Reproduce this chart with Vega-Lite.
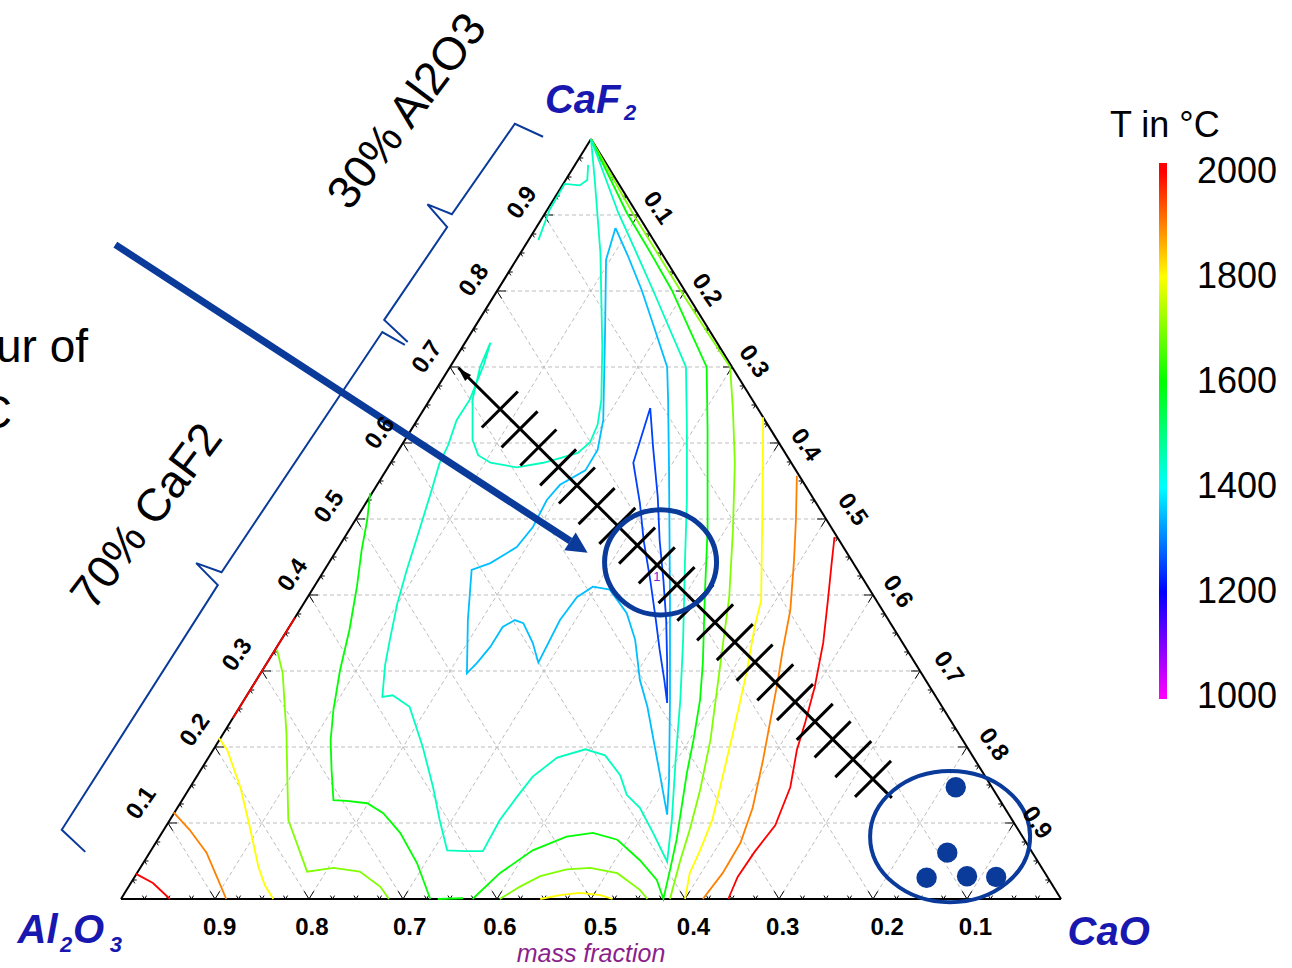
{
"$schema":"https://vega.github.io/schema/vega-lite/v6.json",
"width":1292,"height":968,"autosize":{"type":"none"},"padding":0,"background":"white",
"config":{"view":{"stroke":null},"font":"Liberation Sans"},
"encoding":{
"x":{"field":"x","type":"quantitative","scale":{"domain":[-0.1287,1.2457],"nice":false,"zero":false},"axis":null},
"y":{"field":"y","type":"quantitative","scale":{"domain":[-0.0908,1.1829],"nice":false,"zero":false},"axis":null}},
"layer":[
{"data":{"values":[
{"x":0.05,"y":0.1,"x2":0.95,"y2":0.1},{"x":0.1,"y":0.2,"x2":0.9,"y2":0.2},{"x":0.15,"y":0.3,"x2":0.85,"y2":0.3},{"x":0.2,"y":0.4,"x2":0.8,"y2":0.4},{"x":0.25,"y":0.5,"x2":0.75,"y2":0.5},{"x":0.3,"y":0.6,"x2":0.7,"y2":0.6},{"x":0.35,"y":0.7,"x2":0.65,"y2":0.7},{"x":0.4,"y":0.8,"x2":0.6,"y2":0.8},{"x":0.45,"y":0.9,"x2":0.55,"y2":0.9},
{"x":0.1,"y":0,"x2":0.55,"y2":0.9},{"x":0.2,"y":0,"x2":0.6,"y2":0.8},{"x":0.3,"y":0,"x2":0.65,"y2":0.7},{"x":0.4,"y":0,"x2":0.7,"y2":0.6},{"x":0.5,"y":0,"x2":0.75,"y2":0.5},{"x":0.6,"y":0,"x2":0.8,"y2":0.4},{"x":0.7,"y":0,"x2":0.85,"y2":0.3},{"x":0.8,"y":0,"x2":0.9,"y2":0.2},{"x":0.9,"y":0,"x2":0.95,"y2":0.1},
{"x":0.1,"y":0,"x2":0.05,"y2":0.1},{"x":0.2,"y":0,"x2":0.1,"y2":0.2},{"x":0.3,"y":0,"x2":0.15,"y2":0.3},{"x":0.4,"y":0,"x2":0.2,"y2":0.4},{"x":0.5,"y":0,"x2":0.25,"y2":0.5},{"x":0.6,"y":0,"x2":0.3,"y2":0.6},{"x":0.7,"y":0,"x2":0.35,"y2":0.7},{"x":0.8,"y":0,"x2":0.4,"y2":0.8},{"x":0.9,"y":0,"x2":0.45,"y2":0.9}]},
"mark":{"type":"rule","stroke":"#bdbdbd","strokeWidth":1,"strokeDash":[4,3]},
"encoding":{"x2":{"field":"x2"},"y2":{"field":"y2"}}},
{"data":{"values":[{"x":0,"y":0,"x2":1,"y2":0},{"x":0,"y":0,"x2":0.5,"y2":1},{"x":1,"y":0,"x2":0.5,"y2":1}]},
"mark":{"type":"rule","stroke":"black","strokeWidth":2},
"encoding":{"x2":{"field":"x2"},"y2":{"field":"y2"}}},
{"data":{"values":[
{"e":"b","k":"m","x":0.025,"y":0},{"e":"b","k":"m","x":0.05,"y":0},{"e":"b","k":"m","x":0.075,"y":0},{"e":"b","k":"M","x":0.1,"y":0},{"e":"b","k":"m","x":0.125,"y":0},{"e":"b","k":"m","x":0.15,"y":0},{"e":"b","k":"m","x":0.175,"y":0},{"e":"b","k":"M","x":0.2,"y":0},{"e":"b","k":"m","x":0.225,"y":0},{"e":"b","k":"m","x":0.25,"y":0},{"e":"b","k":"m","x":0.275,"y":0},{"e":"b","k":"M","x":0.3,"y":0},{"e":"b","k":"m","x":0.325,"y":0},{"e":"b","k":"m","x":0.35,"y":0},{"e":"b","k":"m","x":0.375,"y":0},{"e":"b","k":"M","x":0.4,"y":0},{"e":"b","k":"m","x":0.425,"y":0},{"e":"b","k":"m","x":0.45,"y":0},{"e":"b","k":"m","x":0.475,"y":0},{"e":"b","k":"M","x":0.5,"y":0},{"e":"b","k":"m","x":0.525,"y":0},{"e":"b","k":"m","x":0.55,"y":0},{"e":"b","k":"m","x":0.575,"y":0},{"e":"b","k":"M","x":0.6,"y":0},{"e":"b","k":"m","x":0.625,"y":0},{"e":"b","k":"m","x":0.65,"y":0},{"e":"b","k":"m","x":0.675,"y":0},{"e":"b","k":"M","x":0.7,"y":0},{"e":"b","k":"m","x":0.725,"y":0},{"e":"b","k":"m","x":0.75,"y":0},{"e":"b","k":"m","x":0.775,"y":0},{"e":"b","k":"M","x":0.8,"y":0},{"e":"b","k":"m","x":0.825,"y":0},{"e":"b","k":"m","x":0.85,"y":0},{"e":"b","k":"m","x":0.875,"y":0},{"e":"b","k":"M","x":0.9,"y":0},{"e":"b","k":"m","x":0.925,"y":0},{"e":"b","k":"m","x":0.95,"y":0},{"e":"b","k":"m","x":0.975,"y":0},
{"e":"l","k":"m","x":0.0125,"y":0.025},{"e":"l","k":"m","x":0.025,"y":0.05},{"e":"l","k":"m","x":0.0375,"y":0.075},{"e":"l","k":"M","x":0.05,"y":0.1},{"e":"l","k":"m","x":0.0625,"y":0.125},{"e":"l","k":"m","x":0.075,"y":0.15},{"e":"l","k":"m","x":0.0875,"y":0.175},{"e":"l","k":"M","x":0.1,"y":0.2},{"e":"l","k":"m","x":0.1125,"y":0.225},{"e":"l","k":"m","x":0.125,"y":0.25},{"e":"l","k":"m","x":0.1375,"y":0.275},{"e":"l","k":"M","x":0.15,"y":0.3},{"e":"l","k":"m","x":0.1625,"y":0.325},{"e":"l","k":"m","x":0.175,"y":0.35},{"e":"l","k":"m","x":0.1875,"y":0.375},{"e":"l","k":"M","x":0.2,"y":0.4},{"e":"l","k":"m","x":0.2125,"y":0.425},{"e":"l","k":"m","x":0.225,"y":0.45},{"e":"l","k":"m","x":0.2375,"y":0.475},{"e":"l","k":"M","x":0.25,"y":0.5},{"e":"l","k":"m","x":0.2625,"y":0.525},{"e":"l","k":"m","x":0.275,"y":0.55},{"e":"l","k":"m","x":0.2875,"y":0.575},{"e":"l","k":"M","x":0.3,"y":0.6},{"e":"l","k":"m","x":0.3125,"y":0.625},{"e":"l","k":"m","x":0.325,"y":0.65},{"e":"l","k":"m","x":0.3375,"y":0.675},{"e":"l","k":"M","x":0.35,"y":0.7},{"e":"l","k":"m","x":0.3625,"y":0.725},{"e":"l","k":"m","x":0.375,"y":0.75},{"e":"l","k":"m","x":0.3875,"y":0.775},{"e":"l","k":"M","x":0.4,"y":0.8},{"e":"l","k":"m","x":0.4125,"y":0.825},{"e":"l","k":"m","x":0.425,"y":0.85},{"e":"l","k":"m","x":0.4375,"y":0.875},{"e":"l","k":"M","x":0.45,"y":0.9},{"e":"l","k":"m","x":0.4625,"y":0.925},{"e":"l","k":"m","x":0.475,"y":0.95},{"e":"l","k":"m","x":0.4875,"y":0.975},
{"e":"r","k":"m","x":0.9875,"y":0.025},{"e":"r","k":"m","x":0.975,"y":0.05},{"e":"r","k":"m","x":0.9625,"y":0.075},{"e":"r","k":"M","x":0.95,"y":0.1},{"e":"r","k":"m","x":0.9375,"y":0.125},{"e":"r","k":"m","x":0.925,"y":0.15},{"e":"r","k":"m","x":0.9125,"y":0.175},{"e":"r","k":"M","x":0.9,"y":0.2},{"e":"r","k":"m","x":0.8875,"y":0.225},{"e":"r","k":"m","x":0.875,"y":0.25},{"e":"r","k":"m","x":0.8625,"y":0.275},{"e":"r","k":"M","x":0.85,"y":0.3},{"e":"r","k":"m","x":0.8375,"y":0.325},{"e":"r","k":"m","x":0.825,"y":0.35},{"e":"r","k":"m","x":0.8125,"y":0.375},{"e":"r","k":"M","x":0.8,"y":0.4},{"e":"r","k":"m","x":0.7875,"y":0.425},{"e":"r","k":"m","x":0.775,"y":0.45},{"e":"r","k":"m","x":0.7625,"y":0.475},{"e":"r","k":"M","x":0.75,"y":0.5},{"e":"r","k":"m","x":0.7375,"y":0.525},{"e":"r","k":"m","x":0.725,"y":0.55},{"e":"r","k":"m","x":0.7125,"y":0.575},{"e":"r","k":"M","x":0.7,"y":0.6},{"e":"r","k":"m","x":0.6875,"y":0.625},{"e":"r","k":"m","x":0.675,"y":0.65},{"e":"r","k":"m","x":0.6625,"y":0.675},{"e":"r","k":"M","x":0.65,"y":0.7},{"e":"r","k":"m","x":0.6375,"y":0.725},{"e":"r","k":"m","x":0.625,"y":0.75},{"e":"r","k":"m","x":0.6125,"y":0.775},{"e":"r","k":"M","x":0.6,"y":0.8},{"e":"r","k":"m","x":0.5875,"y":0.825},{"e":"r","k":"m","x":0.575,"y":0.85},{"e":"r","k":"m","x":0.5625,"y":0.875},{"e":"r","k":"M","x":0.55,"y":0.9},{"e":"r","k":"m","x":0.5375,"y":0.925},{"e":"r","k":"m","x":0.525,"y":0.95},{"e":"r","k":"m","x":0.5125,"y":0.975}]},
"mark":{"type":"point","filled":false,"stroke":"black","strokeWidth":1,"opacity":1},
"encoding":{"shape":{"field":"e","type":"nominal","scale":{"domain":["b","l","r"],"range":["M-0.526,-0.851L0,0L0.526,-0.851","M1,0L0,0L0.526,0.851","M-1,0L0,0L-0.526,0.851"]},"legend":null},
"size":{"field":"k","type":"ordinal","scale":{"domain":["m","M"],"range":[64,324]},"legend":null}}},
{"data":{"values":[
{"id":"R1","t":2000,"x":0.016,"y":0.033},{"id":"R1","t":2000,"x":0.034,"y":0.021},{"id":"R1","t":2000,"x":0.052,"y":0},
{"id":"R2","t":2000,"x":0.119,"y":0.238},{"id":"R2","t":2000,"x":0.152,"y":0.304},{"id":"R2","t":2000,"x":0.185,"y":0.370},
{"id":"R3","t":2000,"x":0.759,"y":0.476},{"id":"R3","t":2000,"x":0.756,"y":0.442},{"id":"R3","t":2000,"x":0.752,"y":0.393},{"id":"R3","t":2000,"x":0.747,"y":0.337},{"id":"R3","t":2000,"x":0.738,"y":0.279},{"id":"R3","t":2000,"x":0.728,"y":0.233},{"id":"R3","t":2000,"x":0.719,"y":0.196},{"id":"R3","t":2000,"x":0.712,"y":0.147},{"id":"R3","t":2000,"x":0.696,"y":0.097},{"id":"R3","t":2000,"x":0.674,"y":0.062},{"id":"R3","t":2000,"x":0.656,"y":0.029},{"id":"R3","t":2000,"x":0.646,"y":0},
{"id":"O1","t":1900,"x":0.056,"y":0.114},{"id":"O1","t":1900,"x":0.073,"y":0.091},{"id":"O1","t":1900,"x":0.091,"y":0.061},{"id":"O1","t":1900,"x":0.102,"y":0.029},{"id":"O1","t":1900,"x":0.112,"y":0},
{"id":"O2","t":1900,"x":0.719,"y":0.557},{"id":"O2","t":1900,"x":0.718,"y":0.499},{"id":"O2","t":1900,"x":0.716,"y":0.446},{"id":"O2","t":1900,"x":0.712,"y":0.380},{"id":"O2","t":1900,"x":0.704,"y":0.328},{"id":"O2","t":1900,"x":0.698,"y":0.282},{"id":"O2","t":1900,"x":0.691,"y":0.236},{"id":"O2","t":1900,"x":0.683,"y":0.183},{"id":"O2","t":1900,"x":0.672,"y":0.120},{"id":"O2","t":1900,"x":0.659,"y":0.074},{"id":"O2","t":1900,"x":0.640,"y":0.034},{"id":"O2","t":1900,"x":0.619,"y":0},
{"id":"Y1","t":1800,"x":0.104,"y":0.212},{"id":"Y1","t":1800,"x":0.113,"y":0.196},{"id":"Y1","t":1800,"x":0.127,"y":0.147},{"id":"Y1","t":1800,"x":0.137,"y":0.095},{"id":"Y1","t":1800,"x":0.146,"y":0.043},{"id":"Y1","t":1800,"x":0.153,"y":0.018},{"id":"Y1","t":1800,"x":0.162,"y":0},
{"id":"Y2","t":1800,"x":0.446,"y":0},{"id":"Y2","t":1800,"x":0.467,"y":0.005},{"id":"Y2","t":1800,"x":0.488,"y":0.008},{"id":"Y2","t":1800,"x":0.510,"y":0.005},{"id":"Y2","t":1800,"x":0.523,"y":0},
{"id":"Y3","t":1800,"x":0.683,"y":0.634},{"id":"Y3","t":1800,"x":0.683,"y":0.604},{"id":"Y3","t":1800,"x":0.682,"y":0.486},{"id":"Y3","t":1800,"x":0.681,"y":0.393},{"id":"Y3","t":1800,"x":0.674,"y":0.358},{"id":"Y3","t":1800,"x":0.666,"y":0.301},{"id":"Y3","t":1800,"x":0.659,"y":0.262},{"id":"Y3","t":1800,"x":0.651,"y":0.218},{"id":"Y3","t":1800,"x":0.640,"y":0.161},{"id":"Y3","t":1800,"x":0.629,"y":0.104},{"id":"Y3","t":1800,"x":0.616,"y":0.064},{"id":"Y3","t":1800,"x":0.605,"y":0.034},{"id":"Y3","t":1800,"x":0.600,"y":0},
{"id":"YG1","t":1700,"x":0.166,"y":0.328},{"id":"YG1","t":1700,"x":0.172,"y":0.297},{"id":"YG1","t":1700,"x":0.176,"y":0.218},{"id":"YG1","t":1700,"x":0.177,"y":0.157},{"id":"YG1","t":1700,"x":0.178,"y":0.104},{"id":"YG1","t":1700,"x":0.198,"y":0.036},{"id":"YG1","t":1700,"x":0.226,"y":0.041},{"id":"YG1","t":1700,"x":0.254,"y":0.036},{"id":"YG1","t":1700,"x":0.276,"y":0.016},{"id":"YG1","t":1700,"x":0.285,"y":0},
{"id":"YG2","t":1700,"x":0.403,"y":0},{"id":"YG2","t":1700,"x":0.424,"y":0.016},{"id":"YG2","t":1700,"x":0.446,"y":0.030},{"id":"YG2","t":1700,"x":0.474,"y":0.039},{"id":"YG2","t":1700,"x":0.499,"y":0.041},{"id":"YG2","t":1700,"x":0.528,"y":0.034},{"id":"YG2","t":1700,"x":0.552,"y":0.012},{"id":"YG2","t":1700,"x":0.560,"y":0},
{"id":"YG3","t":1700,"x":0.5,"y":1.0},{"id":"YG3","t":1700,"x":0.544,"y":0.903},{"id":"YG3","t":1700,"x":0.570,"y":0.851},{"id":"YG3","t":1700,"x":0.595,"y":0.801},{"id":"YG3","t":1700,"x":0.622,"y":0.749},{"id":"YG3","t":1700,"x":0.648,"y":0.700},{"id":"YG3","t":1700,"x":0.651,"y":0.643},{"id":"YG3","t":1700,"x":0.653,"y":0.574},{"id":"YG3","t":1700,"x":0.651,"y":0.486},{"id":"YG3","t":1700,"x":0.647,"y":0.397},{"id":"YG3","t":1700,"x":0.640,"y":0.332},{"id":"YG3","t":1700,"x":0.634,"y":0.275},{"id":"YG3","t":1700,"x":0.627,"y":0.209},{"id":"YG3","t":1700,"x":0.616,"y":0.143},{"id":"YG3","t":1700,"x":0.605,"y":0.091},{"id":"YG3","t":1700,"x":0.595,"y":0.051},{"id":"YG3","t":1700,"x":0.584,"y":0},
{"id":"G1","t":1600,"x":0.265,"y":0.534},{"id":"G1","t":1600,"x":0.262,"y":0.499},{"id":"G1","t":1600,"x":0.256,"y":0.459},{"id":"G1","t":1600,"x":0.251,"y":0.411},{"id":"G1","t":1600,"x":0.243,"y":0.354},{"id":"G1","t":1600,"x":0.233,"y":0.301},{"id":"G1","t":1600,"x":0.226,"y":0.249},{"id":"G1","t":1600,"x":0.223,"y":0.209},{"id":"G1","t":1600,"x":0.224,"y":0.170},{"id":"G1","t":1600,"x":0.226,"y":0.130},{"id":"G1","t":1600,"x":0.240,"y":0.129},{"id":"G1","t":1600,"x":0.262,"y":0.126},{"id":"G1","t":1600,"x":0.279,"y":0.113},{"id":"G1","t":1600,"x":0.297,"y":0.087},{"id":"G1","t":1600,"x":0.315,"y":0.047},{"id":"G1","t":1600,"x":0.329,"y":0},
{"id":"G3","t":1600,"x":0.337,"y":0},{"id":"G3","t":1600,"x":0.364,"y":0.001},
{"id":"G2","t":1600,"x":0.5,"y":1.0},{"id":"G2","t":1600,"x":0.538,"y":0.903},{"id":"G2","t":1600,"x":0.563,"y":0.851},{"id":"G2","t":1600,"x":0.586,"y":0.801},{"id":"G2","t":1600,"x":0.605,"y":0.749},{"id":"G2","t":1600,"x":0.623,"y":0.700},{"id":"G2","t":1600,"x":0.624,"y":0.617},{"id":"G2","t":1600,"x":0.624,"y":0.486},{"id":"G2","t":1600,"x":0.621,"y":0.397},{"id":"G2","t":1600,"x":0.619,"y":0.311},{"id":"G2","t":1600,"x":0.616,"y":0.262},{"id":"G2","t":1600,"x":0.609,"y":0.209},{"id":"G2","t":1600,"x":0.602,"y":0.166},{"id":"G2","t":1600,"x":0.591,"y":0.078},{"id":"G2","t":1600,"x":0.584,"y":0.038},{"id":"G2","t":1600,"x":0.577,"y":0},{"id":"G2","t":1600,"x":0.570,"y":0.025},{"id":"G2","t":1600,"x":0.552,"y":0.051},{"id":"G2","t":1600,"x":0.528,"y":0.078},{"id":"G2","t":1600,"x":0.502,"y":0.087},{"id":"G2","t":1600,"x":0.474,"y":0.082},{"id":"G2","t":1600,"x":0.438,"y":0.064},{"id":"G2","t":1600,"x":0.403,"y":0.034},{"id":"G2","t":1600,"x":0.374,"y":0},
{"id":"S1","t":1450,"x":0.497,"y":0.966},{"id":"S1","t":1450,"x":0.496,"y":0.946},{"id":"S1","t":1450,"x":0.488,"y":0.939},{"id":"S1","t":1450,"x":0.472,"y":0.941},{"id":"S1","t":1450,"x":0.456,"y":0.907},{"id":"S1","t":1450,"x":0.444,"y":0.867},
{"id":"T1","t":1450,"x":0.5,"y":1.0},{"id":"T1","t":1450,"x":0.504,"y":0.946},{"id":"T1","t":1450,"x":0.510,"y":0.850},{"id":"T1","t":1450,"x":0.512,"y":0.726},{"id":"T1","t":1450,"x":0.511,"y":0.657},{"id":"T1","t":1450,"x":0.507,"y":0.624},{"id":"T1","t":1450,"x":0.499,"y":0.601},{"id":"T1","t":1450,"x":0.486,"y":0.587},{"id":"T1","t":1450,"x":0.467,"y":0.580},{"id":"T1","t":1450,"x":0.449,"y":0.574},{"id":"T1","t":1450,"x":0.421,"y":0.568},{"id":"T1","t":1450,"x":0.393,"y":0.574},{"id":"T1","t":1450,"x":0.380,"y":0.584},{"id":"T1","t":1450,"x":0.374,"y":0.604},{"id":"T1","t":1450,"x":0.374,"y":0.657},{"id":"T1","t":1450,"x":0.382,"y":0.700},{"id":"T1","t":1450,"x":0.393,"y":0.732},{"id":"T1","t":1450,"x":0.386,"y":0.703},{"id":"T1","t":1450,"x":0.371,"y":0.657},{"id":"T1","t":1450,"x":0.357,"y":0.630},{"id":"T1","t":1450,"x":0.348,"y":0.597},{"id":"T1","t":1450,"x":0.339,"y":0.574},{"id":"T1","t":1450,"x":0.329,"y":0.532},{"id":"T1","t":1450,"x":0.315,"y":0.476},{"id":"T1","t":1450,"x":0.304,"y":0.433},{"id":"T1","t":1450,"x":0.294,"y":0.389},{"id":"T1","t":1450,"x":0.286,"y":0.341},{"id":"T1","t":1450,"x":0.281,"y":0.308},{"id":"T1","t":1450,"x":0.278,"y":0.266},{"id":"T1","t":1450,"x":0.289,"y":0.268},{"id":"T1","t":1450,"x":0.307,"y":0.253},{"id":"T1","t":1450,"x":0.321,"y":0.200},{"id":"T1","t":1450,"x":0.332,"y":0.147},{"id":"T1","t":1450,"x":0.339,"y":0.104},{"id":"T1","t":1450,"x":0.347,"y":0.064},{"id":"T1","t":1450,"x":0.366,"y":0.063},{"id":"T1","t":1450,"x":0.385,"y":0.063},{"id":"T1","t":1450,"x":0.403,"y":0.104},{"id":"T1","t":1450,"x":0.421,"y":0.134},{"id":"T1","t":1450,"x":0.438,"y":0.161},{"id":"T1","t":1450,"x":0.464,"y":0.186},{"id":"T1","t":1450,"x":0.494,"y":0.197},{"id":"T1","t":1450,"x":0.515,"y":0.189},{"id":"T1","t":1450,"x":0.531,"y":0.163},{"id":"T1","t":1450,"x":0.538,"y":0.137},{"id":"T1","t":1450,"x":0.552,"y":0.120},{"id":"T1","t":1450,"x":0.566,"y":0.087},{"id":"T1","t":1450,"x":0.581,"y":0.049},{"id":"T1","t":1450,"x":0.586,"y":0.104},{"id":"T1","t":1450,"x":0.590,"y":0.183},{"id":"T1","t":1450,"x":0.595,"y":0.262},{"id":"T1","t":1450,"x":0.598,"y":0.341},{"id":"T1","t":1450,"x":0.600,"y":0.446},{"id":"T1","t":1450,"x":0.602,"y":0.525},{"id":"T1","t":1450,"x":0.602,"y":0.617},{"id":"T1","t":1450,"x":0.601,"y":0.700},{"id":"T1","t":1450,"x":0.584,"y":0.749},{"id":"T1","t":1450,"x":0.566,"y":0.801},{"id":"T1","t":1450,"x":0.548,"y":0.851},{"id":"T1","t":1450,"x":0.529,"y":0.903},{"id":"T1","t":1450,"x":0.5,"y":1.0},
{"id":"L1","t":1350,"x":0.526,"y":0.883},{"id":"L1","t":1350,"x":0.539,"y":0.847},{"id":"L1","t":1350,"x":0.554,"y":0.801},{"id":"L1","t":1350,"x":0.568,"y":0.749},{"id":"L1","t":1350,"x":0.581,"y":0.700},{"id":"L1","t":1350,"x":0.582,"y":0.657},{"id":"L1","t":1350,"x":0.583,"y":0.564},{"id":"L1","t":1350,"x":0.584,"y":0.393},{"id":"L1","t":1350,"x":0.584,"y":0.262},{"id":"L1","t":1350,"x":0.583,"y":0.157},{"id":"L1","t":1350,"x":0.581,"y":0.111},{"id":"L1","t":1350,"x":0.573,"y":0.166},{"id":"L1","t":1350,"x":0.560,"y":0.253},{"id":"L1","t":1350,"x":0.552,"y":0.288},{"id":"L1","t":1350,"x":0.547,"y":0.341},{"id":"L1","t":1350,"x":0.538,"y":0.376},{"id":"L1","t":1350,"x":0.520,"y":0.407},{"id":"L1","t":1350,"x":0.502,"y":0.411},{"id":"L1","t":1350,"x":0.485,"y":0.397},{"id":"L1","t":1350,"x":0.467,"y":0.367},{"id":"L1","t":1350,"x":0.444,"y":0.311},{"id":"L1","t":1350,"x":0.438,"y":0.337},{"id":"L1","t":1350,"x":0.428,"y":0.363},{"id":"L1","t":1350,"x":0.419,"y":0.367},{"id":"L1","t":1350,"x":0.406,"y":0.358},{"id":"L1","t":1350,"x":0.393,"y":0.332},{"id":"L1","t":1350,"x":0.379,"y":0.311},{"id":"L1","t":1350,"x":0.368,"y":0.297},{"id":"L1","t":1350,"x":0.369,"y":0.367},{"id":"L1","t":1350,"x":0.373,"y":0.433},{"id":"L1","t":1350,"x":0.393,"y":0.442},{"id":"L1","t":1350,"x":0.421,"y":0.463},{"id":"L1","t":1350,"x":0.438,"y":0.489},{"id":"L1","t":1350,"x":0.453,"y":0.525},{"id":"L1","t":1350,"x":0.467,"y":0.545},{"id":"L1","t":1350,"x":0.494,"y":0.564},{"id":"L1","t":1350,"x":0.507,"y":0.591},{"id":"L1","t":1350,"x":0.513,"y":0.630},{"id":"L1","t":1350,"x":0.515,"y":0.749},{"id":"L1","t":1350,"x":0.516,"y":0.841},{"id":"L1","t":1350,"x":0.526,"y":0.883},
{"id":"D1","t":1250,"x":0.563,"y":0.646},{"id":"D1","t":1250,"x":0.545,"y":0.574},{"id":"D1","t":1250,"x":0.552,"y":0.521},{"id":"D1","t":1250,"x":0.556,"y":0.472},{"id":"D1","t":1250,"x":0.563,"y":0.420},{"id":"D1","t":1250,"x":0.569,"y":0.367},{"id":"D1","t":1250,"x":0.573,"y":0.328},{"id":"D1","t":1250,"x":0.578,"y":0.288},{"id":"D1","t":1250,"x":0.581,"y":0.258},{"id":"D1","t":1250,"x":0.581,"y":0.311},{"id":"D1","t":1250,"x":0.580,"y":0.367},{"id":"D1","t":1250,"x":0.577,"y":0.420},{"id":"D1","t":1250,"x":0.573,"y":0.472},{"id":"D1","t":1250,"x":0.571,"y":0.529},{"id":"D1","t":1250,"x":0.566,"y":0.595},{"id":"D1","t":1250,"x":0.563,"y":0.646}]},
"mark":{"type":"line","strokeWidth":1.8},
"encoding":{"detail":{"field":"id","type":"nominal"},"order":{"value":null},
"color":{"field":"t","type":"quantitative","scale":{"domain":[997,1000,1200,1400,1600,1800,2000,2017],"range":["#ff00ff","#ff00ff","#0000ff","#00ffff","#00ff00","#ffff00","#ff0000","#ff0000"],"interpolate":"rgb"},
"legend":{"type":"gradient","orient":"none","legendX":1159,"legendY":163,"direction":"vertical","gradientLength":536,"gradientThickness":8,"gradientStrokeWidth":0,"title":null,"padding":0,"values":[1000,1200,1400,1600,1800,2000],"format":"d","labelFont":"Liberation Sans","labelFontSize":36,"labelColor":"black","labelOffset":30,"labelBaseline":"middle","labelOverlap":false}}}},
{"data":{"values":[{"x":0.570,"y":0.424,"label":"1"}]},"mark":{"type":"text","fontSize":13,"color":"#7a1fd6","align":"center","baseline":"middle"},"encoding":{"text":{"field":"label"}}},
{"data":{"values":[{"x":0.359,"y":0.699,"x2":0.820,"y2":0.133}]},"mark":{"type":"rule","stroke":"black","strokeWidth":3},"encoding":{"x2":{"field":"x2"},"y2":{"field":"y2"}}},
{"data":{"values":[{"x":0.364,"y":0.692}]},"mark":{"type":"point","shape":"M1,0L-1,-0.6L-1,0.6Z","filled":true,"color":"black","opacity":1,"size":196,"angle":225}},
{"data":{"values":[
{"x":0.403,"y":0.644},{"x":0.424,"y":0.618},{"x":0.444,"y":0.594},{"x":0.465,"y":0.568},{"x":0.485,"y":0.544},{"x":0.506,"y":0.517},{"x":0.528,"y":0.491},{"x":0.549,"y":0.465},{"x":0.570,"y":0.439},{"x":0.591,"y":0.413},{"x":0.611,"y":0.390},{"x":0.632,"y":0.364},{"x":0.653,"y":0.338},{"x":0.674,"y":0.311},{"x":0.696,"y":0.285},{"x":0.717,"y":0.259},{"x":0.738,"y":0.233},{"x":0.757,"y":0.210},{"x":0.779,"y":0.184},{"x":0.800,"y":0.158}]},
"mark":{"type":"point","shape":"M-1,1L1,-1","filled":false,"stroke":"black","strokeWidth":3,"opacity":1,"size":1296}},
{"data":{"values":[
{"id":"U","x":0.449,"y":1.003},{"id":"U","x":0.419,"y":1.020},{"id":"U","x":0.352,"y":0.901},{"id":"U","x":0.326,"y":0.914},{"id":"U","x":0.347,"y":0.884},{"id":"U","x":0.280,"y":0.762},{"id":"U","x":0.305,"y":0.733},
{"id":"L","x":0.302,"y":0.729},{"id":"L","x":0.278,"y":0.746},{"id":"L","x":0.107,"y":0.430},{"id":"L","x":0.080,"y":0.442},{"id":"L","x":0.103,"y":0.413},{"id":"L","x":-0.063,"y":0.091},{"id":"L","x":-0.038,"y":0.062}]},
"mark":{"type":"line","stroke":"#0a3a9a","strokeWidth":2},"encoding":{"detail":{"field":"id","type":"nominal"},"order":{"value":null}}},
{"data":{"values":[{"x":-0.006,"y":0.861,"x2":0.478,"y2":0.471}]},"mark":{"type":"rule","stroke":"#0a3a9a","strokeWidth":7},"encoding":{"x2":{"field":"x2"},"y2":{"field":"y2"}}},
{"data":{"values":[{"x":0.487,"y":0.463}]},"mark":{"type":"point","shape":"M1,0L-1,-1L-1,1Z","filled":true,"color":"#0a3a9a","opacity":1,"size":441,"angle":33}},
{"data":{"values":[{"x":0.574,"y":0.443}]},"mark":{"type":"point","shape":"M-1,0A1,0.94,0,1,0,1,0A1,0.94,0,1,0,-1,0Z","filled":false,"stroke":"#0a3a9a","strokeWidth":5,"opacity":1,"size":12544}},
{"data":{"values":[{"x":0.882,"y":0.082}]},"mark":{"type":"point","shape":"M-1,0A1,0.82,0,1,0,1,0A1,0.82,0,1,0,-1,0Z","filled":false,"stroke":"#0a3a9a","strokeWidth":4,"opacity":1,"size":25600}},
{"data":{"values":[{"x":0.888,"y":0.147},{"x":0.879,"y":0.061},{"x":0.857,"y":0.028},{"x":0.900,"y":0.030},{"x":0.931,"y":0.029}]},"mark":{"type":"point","shape":"circle","filled":true,"color":"#0a3a9a","opacity":1,"size":415}},
{"data":{"values":[{"x":0.105,"y":-0.038,"label":"0.9"},{"x":0.203,"y":-0.038,"label":"0.8"},{"x":0.307,"y":-0.038,"label":"0.7"},{"x":0.403,"y":-0.038,"label":"0.6"},{"x":0.510,"y":-0.038,"label":"0.5"},{"x":0.609,"y":-0.038,"label":"0.4"},{"x":0.704,"y":-0.038,"label":"0.3"},{"x":0.815,"y":-0.038,"label":"0.2"},{"x":0.909,"y":-0.038,"label":"0.1"}]},
"mark":{"type":"text","fontSize":24,"fontWeight":"bold","color":"black","align":"center","baseline":"middle"},"encoding":{"text":{"field":"label"}}},
{"data":{"values":[{"x":0.022,"y":0.126,"label":"0.1"},{"x":0.079,"y":0.222,"label":"0.2"},{"x":0.124,"y":0.321,"label":"0.3"},{"x":0.183,"y":0.426,"label":"0.4"},{"x":0.222,"y":0.516,"label":"0.5"},{"x":0.276,"y":0.613,"label":"0.6"},{"x":0.326,"y":0.713,"label":"0.7"},{"x":0.376,"y":0.814,"label":"0.8"},{"x":0.427,"y":0.916,"label":"0.9"}]},
"mark":{"type":"text","fontSize":24,"fontWeight":"bold","color":"black","align":"center","baseline":"middle","angle":-55},"encoding":{"text":{"field":"label"}}},
{"data":{"values":[{"x":0.571,"y":0.909,"label":"0.1"},{"x":0.623,"y":0.801,"label":"0.2"},{"x":0.673,"y":0.707,"label":"0.3"},{"x":0.728,"y":0.597,"label":"0.4"},{"x":0.778,"y":0.512,"label":"0.5"},{"x":0.826,"y":0.404,"label":"0.6"},{"x":0.880,"y":0.304,"label":"0.7"},{"x":0.928,"y":0.203,"label":"0.8"},{"x":0.974,"y":0.100,"label":"0.9"}]},
"mark":{"type":"text","fontSize":24,"fontWeight":"bold","color":"black","align":"center","baseline":"middle","angle":55},"encoding":{"text":{"field":"label"}}},
{"data":{"values":[{"x":0.451,"y":1.034,"label":"CaF"},{"x":-0.110,"y":-0.058,"label":"Al"},{"x":-0.051,"y":-0.058,"label":"O"},{"x":1.007,"y":-0.061,"label":"CaO"}]},
"mark":{"type":"text","fontSize":40,"fontWeight":"bold","fontStyle":"italic","color":"#1818b0","align":"left","baseline":"alphabetic"},"encoding":{"text":{"field":"label"}}},
{"data":{"values":[{"x":0.535,"y":1.025,"label":"2"},{"x":-0.065,"y":-0.070,"label":"2"},{"x":-0.012,"y":-0.070,"label":"3"}]},
"mark":{"type":"text","fontSize":22,"fontWeight":"bold","fontStyle":"italic","color":"#1818b0","align":"left","baseline":"alphabetic"},"encoding":{"text":{"field":"label"}}},
{"data":{"values":[{"x":0.5,"y":-0.083,"label":"mass fraction"}]},
"mark":{"type":"text","fontSize":25,"fontStyle":"italic","color":"#8b1f8b","align":"center","baseline":"alphabetic"},"encoding":{"text":{"field":"label"}}},
{"data":{"values":[{"x":0.305,"y":1.036,"label":"30% Al2O3"},{"x":0.028,"y":0.503,"label":"70% CaF2"}]},
"mark":{"type":"text","fontSize":46,"color":"black","align":"center","baseline":"middle","angle":-53},"encoding":{"text":{"field":"label"}}},
{"data":{"values":[{"x":-0.035,"y":0.707,"label":"ur of"},{"x":-0.116,"y":0.620,"label":"C"}]},
"mark":{"type":"text","fontSize":46,"color":"black","align":"right","baseline":"alphabetic"},"encoding":{"text":{"field":"label"}}},
{"data":{"values":[{"x":1.052,"y":1.003,"label":"T in °C"}]},
"mark":{"type":"text","fontSize":36,"color":"black","align":"left","baseline":"alphabetic"},"encoding":{"text":{"field":"label"}}}
]
}
